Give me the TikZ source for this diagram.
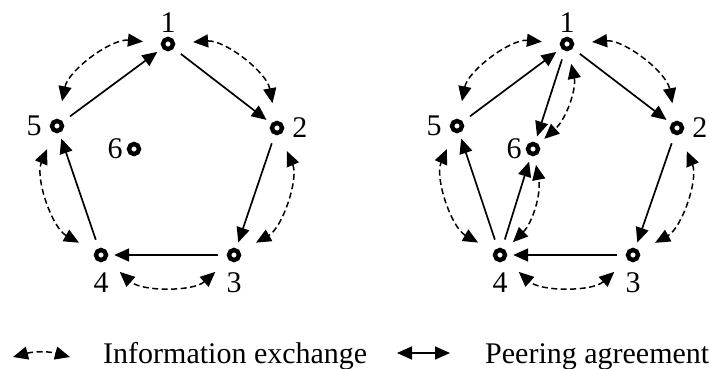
\documentclass[tikz,border=0pt]{standalone}
\usepackage{fontspec}
\setmainfont{Liberation Serif}
\usetikzlibrary{arrows.meta}
\begin{document}
\begin{tikzpicture}[x=1pt,y=-1pt,
  peer/.style={circle,draw=black,line width=4.4pt,fill=white,minimum size=10pt,inner sep=0pt},
  lbl/.style={font=\fontsize{30}{30}\selectfont,inner sep=0pt},
  legendtext/.style={font=\fontsize{30}{30}\selectfont,inner sep=0pt,anchor=base west},
  head/.tip={Triangle[length=15pt,width=13pt]},
  peerarrow/.style={line width=1.7pt,shorten <=9pt,shorten >=6pt,-head},
  infoarrow/.style={line width=1.5pt,dash pattern=on 6pt off 3.5pt,head-head,shorten <=18pt,shorten >=18pt},
]
\useasboundingbox (0,0) rectangle (710,369);

% ---------- left network ----------
\node[peer,label={[lbl,label distance=4pt]above:1}] (a1) at (168,44) {};
\node[peer,label={[lbl,label distance=8pt]right:2}] (a2) at (277,128) {};
\node[peer,label={[lbl,label distance=10pt]below:3}] (a3) at (234,255) {};
\node[peer,label={[lbl,label distance=10pt]below:4}] (a4) at (101,255) {};
\node[peer,label={[lbl,label distance=8pt]left:5}] (a5) at (57,126) {};
\node[peer,label={[lbl,label distance=4pt]left:6}] (a6) at (134,149) {};

\draw[peerarrow] (a1) -- (a2);
\draw[peerarrow] (a2) -- (a3);
\draw[peerarrow] (a3) -- (a4);
\draw[peerarrow] (a4) -- (a5);
\draw[peerarrow] (a5) -- (a1);

\draw[infoarrow] (a1) to[bend left=42] (a2);
\draw[infoarrow] (a2) to[bend left=42] (a3);
\draw[infoarrow] (a3) to[bend left=42] (a4);
\draw[infoarrow] (a4) to[bend left=42] (a5);
\draw[infoarrow] (a5) to[bend left=42] (a1);

% ---------- right network ----------
\node[peer,label={[lbl,label distance=4pt]above:1}] (b1) at (567,44) {};
\node[peer,label={[lbl,label distance=8pt]right:2}] (b2) at (677,128) {};
\node[peer,label={[lbl,label distance=10pt]below:3}] (b3) at (633,255) {};
\node[peer,label={[lbl,label distance=10pt]below:4}] (b4) at (500,255) {};
\node[peer,label={[lbl,label distance=8pt]left:5}] (b5) at (457,126) {};
\node[peer,label={[lbl,label distance=4pt]left:6}] (b6) at (533,149) {};

\draw[peerarrow] (b1) -- (b2);
\draw[peerarrow] (b2) -- (b3);
\draw[peerarrow] (b3) -- (b4);
\draw[peerarrow] (b4) -- (b5);
\draw[peerarrow] (b5) -- (b1);
\draw[peerarrow] (b1) -- (b6);
\draw[peerarrow] (b4) -- (b6);

\draw[infoarrow] (b1) to[bend left=42] (b2);
\draw[infoarrow] (b2) to[bend left=42] (b3);
\draw[infoarrow] (b3) to[bend left=42] (b4);
\draw[infoarrow] (b4) to[bend left=42] (b5);
\draw[infoarrow] (b5) to[bend left=42] (b1);
\draw[infoarrow,shorten <=13pt,shorten >=8pt] (b1) to[bend left=30] (b6);
\draw[infoarrow,shorten <=11pt,shorten >=9pt] (b4) to[bend right=28] (b6);

% ---------- legend ----------
\coordinate (li1) at (13,357);
\coordinate (li2) at (70,357);
\draw[line width=1.5pt,dash pattern=on 6pt off 3.5pt,head-head] (li1) to[bend left=15] (li2);
\node[legendtext] (lt1) at (103,363) {Information exchange};
\coordinate (lp1) at (397,353);
\coordinate (lp2) at (450,353);
\draw[line width=1.7pt,head-head] (lp1) -- (lp2);
\node[legendtext] (lt2) at (485,363) {Peering agreement};
\end{tikzpicture}
\end{document}
